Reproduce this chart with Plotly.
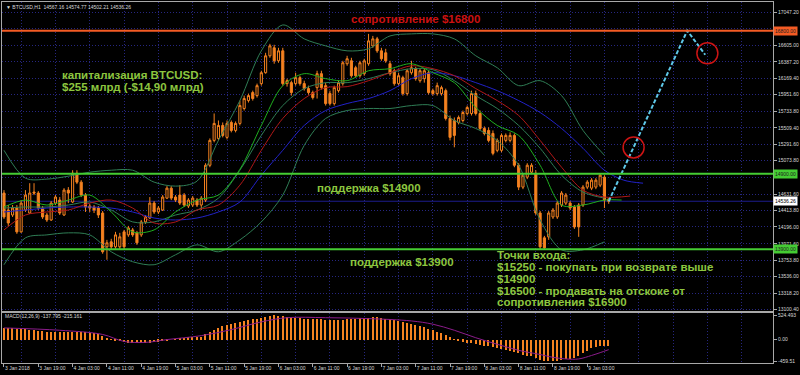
import plotly.graph_objects as go

# ---------------- data ----------------
time_labels = ["3 Jan 2018", "3 Jan 19:00", "4 Jan 03:00", "4 Jan 11:00", "4 Jan 19:00",
               "5 Jan 03:00", "5 Jan 11:00", "5 Jan 19:00", "6 Jan 03:00", "6 Jan 11:00",
               "6 Jan 19:00", "7 Jan 03:00", "7 Jan 11:00", "7 Jan 19:00", "8 Jan 03:00",
               "8 Jan 11:00", "8 Jan 19:00", "9 Jan 03:00"]
time_label_bars = [0, 8, 16, 24, 32, 40, 48, 56, 64, 72, 80, 88, 96, 104, 112, 120, 128, 136]
grid_bars = [4, 12, 20, 28, 36, 44, 52, 60, 68, 76, 84, 92, 100, 108, 116, 124, 132, 140,
             148, 156, 164, 172]

price_ticks = [17047.20, 16829.40, 16605.00, 16387.20, 16169.40, 15951.60, 15733.80, 15509.40,
               15291.60, 15073.80, 14849.40, 14631.60, 14413.80, 14196.00, 13971.60, 13753.80,
               13536.00, 13318.20, 13100.40]
# labels hidden behind the coloured level boxes are left blank
price_tick_text = ["17047.20", "", "16605.00", "16387.20", "16169.40", "15951.60", "15733.80",
                   "15509.40", "15291.60", "15073.80", "", "14631.60", "14413.80", "14196.00",
                   "13971.60", "13753.80", "13536.00", "13318.20", "13100.40"]

opens = [14645, 14420, 14354, 14446, 14130, 14420, 14380, 14658, 14645, 14446,
         14354, 14288, 14512, 14552, 14354, 14684, 14526, 14908, 14790, 14618,
         14473, 14460, 14446, 14380, 13932, 13998, 13932, 13932, 14130, 14090,
         14156, 14117, 14090, 14262, 14314, 14512, 14394, 14420, 14578, 14710,
         14592, 14618, 14618, 14473, 14486, 14552, 14486, 14552, 15014, 15344,
         15370, 15542, 15384, 15582, 15476, 15569, 15767, 15872, 15978, 15938,
         16097, 16242, 16466, 16572, 16400, 16532, 16097, 16110, 16097, 16176,
         16097, 16031, 15978, 16044, 16229, 16070, 15965, 15832, 16004, 16097,
         16361, 16400, 16308, 16202, 16229, 16361, 16598, 16691, 16532, 16506,
         16361, 16268, 16097, 16176, 15965, 16242, 16295, 16136, 16163, 16242,
         16004, 15965, 15965, 16004, 15635, 15608, 15582, 15608, 15701, 15701,
         15965, 15701, 15502, 15476, 15436, 15212, 15212, 15344, 15344, 15410,
         15014, 14724, 14856, 14922, 14908, 14380, 14051, 14064, 14328, 14328,
         14486, 14512, 14512, 14460, 14486, 14486, 14724, 14710, 14724, 14750,
         14856, 14567.16]
highs = [14684, 14486, 14486, 14486, 14552, 14684, 14776, 14776, 14671, 14473,
         14380, 14539, 14618, 14592, 14710, 14724, 14948, 14948, 14816, 14645,
         14500, 14486, 14473, 14407, 14024, 14038, 14130, 14117, 14156, 14209,
         14182, 14143, 14288, 14354, 14592, 14539, 14473, 14618, 14737, 14737,
         14618, 14750, 14645, 14578, 14605, 14578, 14605, 15041, 15370, 15701,
         15608, 15582, 15608, 15608, 15595, 15872, 15938, 15965, 16004, 16097,
         16268, 16506, 16625, 16612, 16572, 16572, 16163, 16136, 16242, 16202,
         16136, 16070, 16004, 16268, 16268, 16110, 16004, 16070, 16136, 16400,
         16466, 16440, 16334, 16400, 16427, 16757, 16730, 16717, 16572, 16559,
         16400, 16295, 16242, 16202, 16295, 16400, 16321, 16295, 16295, 16268,
         16031, 16110, 16070, 16031, 15674, 15648, 15674, 15740, 15806, 16004,
         16004, 15740, 15529, 15516, 15476, 15370, 15436, 15436, 15450, 15436,
         15041, 14908, 15041, 15041, 14948, 14407, 14077, 14407, 14446, 14539,
         14671, 14645, 14539, 14486, 14512, 14750, 14816, 14843, 14843, 14908,
         14882, 14574.77]
lows = [14302, 14209, 14328, 14104, 14117, 14394, 14368, 14618, 14420, 14302,
        14262, 14275, 14486, 14354, 14341, 14512, 14512, 14764, 14592, 14394,
        14394, 14380, 14314, 13840, 13760, 13892, 13906, 13892, 13892, 14064,
        14064, 13958, 14064, 14236, 14302, 14368, 14368, 14407, 14566, 14552,
        14526, 14486, 14460, 14446, 14460, 14460, 14420, 14526, 14988, 15318,
        15344, 15384, 15357, 15450, 15450, 15542, 15740, 15846, 15872, 15912,
        16070, 16229, 16440, 16361, 16374, 16070, 16057, 15938, 16070, 16070,
        16004, 15952, 15886, 15899, 16018, 15806, 15806, 15806, 15978, 16070,
        16334, 16176, 16176, 16176, 16202, 16334, 16572, 16506, 16400, 16374,
        16202, 16070, 16070, 15938, 15938, 16216, 16136, 16110, 16110, 15952,
        15938, 15938, 15938, 15608, 15344, 15252, 15556, 15582, 15674, 15674,
        15674, 15476, 15410, 15318, 15146, 15186, 15186, 15318, 15318, 14988,
        14684, 14697, 14830, 14896, 14354, 13892, 13892, 14024, 14302, 14302,
        14460, 14486, 14420, 14170, 14064, 14460, 14697, 14684, 14697, 14724,
        14446, 14502.21]
closes = [14328, 14248, 14446, 14130, 14512, 14618, 14645, 14645, 14446, 14328,
          14288, 14512, 14592, 14380, 14684, 14645, 14908, 14790, 14618, 14460,
          14446, 14420, 14354, 13866, 13985, 13932, 14090, 14064, 13932, 14182,
          14090, 13985, 14262, 14328, 14512, 14394, 14446, 14592, 14710, 14578,
          14552, 14512, 14486, 14552, 14578, 14486, 14578, 15014, 15344, 15569,
          15542, 15410, 15569, 15476, 15569, 15806, 15899, 15938, 15899, 16070,
          16242, 16466, 16598, 16400, 16532, 16097, 16136, 15978, 16176, 16097,
          16031, 15978, 15912, 16229, 16044, 15832, 15832, 16044, 16110, 16374,
          16427, 16202, 16202, 16374, 16400, 16664, 16691, 16532, 16427, 16400,
          16229, 16097, 16202, 15965, 16268, 16308, 16163, 16268, 16268, 15978,
          15965, 16070, 16044, 15635, 15384, 15410, 15648, 15714, 15780, 15965,
          15701, 15502, 15436, 15344, 15172, 15344, 15410, 15410, 15410, 15014,
          14724, 14882, 15014, 15014, 14380, 13932, 13918, 14380, 14420, 14512,
          14645, 14618, 14446, 14196, 14196, 14724, 14790, 14816, 14816, 14882,
          14552, 14536.26]
bars = list(range(len(closes)))

# indicator lines (bar index, price)
ind_bars = [0, 5, 10, 15, 20, 25, 30, 35, 40, 45, 50, 55, 60, 65, 70, 75, 80, 85, 90, 95,
            100, 105, 110, 115, 120, 125, 130, 135, 140]
bb_upper = [15212, 14843, 14830, 14869, 14922, 14948, 14948, 14790, 14737, 14803,
            15344, 15872, 16532, 16876, 16691, 16598, 16532, 16559, 16730, 16757,
            16757, 16691, 16466, 16308, 16070, 16136, 15938, 15476, 15146]
bb_middle = [14446, 14460, 14460, 14486, 14526, 14420, 14262, 14262, 14354, 14420,
             14578, 14948, 15410, 15806, 16031, 16110, 16110, 16163, 16242, 16295,
             16282, 16136, 15938, 15767, 15542, 15239, 14882, 14658, 14578]
bb_lower = [13694, 14051, 14090, 14117, 14090, 13866, 13734, 13694, 13826, 13958,
            13866, 14024, 14262, 14618, 15278, 15635, 15740, 15767, 15767, 15806,
            15806, 15608, 15502, 15344, 15014, 14288, 13892, 13892, 13998]
jaw_bars = ind_bars + [144.5, 149]
jaw_blue = [14394, 14420, 14446, 14460, 14460, 14446, 14394, 14314, 14288, 14314,
            14394, 14526, 14882, 15212, 15542, 15740, 15833, 15899, 16004, 16163,
            16242, 16202, 16110, 16004, 15872, 15714, 15502, 15239, 14948, 14816, 14776]
teeth_bars = ind_bars + [146]
teeth_red = [14156, 14354, 14394, 14420, 14512, 14552, 14446, 14248, 14262, 14420,
             14486, 14750, 15212, 15635, 15899, 16044, 16057, 16136, 16242, 16334,
             16295, 16202, 16031, 15872, 15674, 15344, 14988, 14684, 14592, 14605]
lips_bars = ind_bars + [144]
lips_green = [14460, 14552, 14486, 14552, 14618, 14394, 14130, 14156, 14394, 14552,
              14618, 14960, 15542, 16070, 16229, 16163, 16136, 16268, 16295, 16361,
              16242, 16110, 15780, 15542, 15410, 15014, 14486, 14486, 14552, 14552]

macd_hist = [260, 255, 250, 240, 235, 225, 215, 210, 200, 190, 180, 175, 170, 165, 165,
             170, 180, 180, 170, 160, 150, 140, 120,
             80, 50, 20,
             -10, -30, -50, -60, -70, -75, -75, -70, -60, -50, -40, -30,
             -15, 0, 20, 35, 45, 55, 60, 65, 70,
             120, 170, 220, 260, 290, 320, 340, 360, 380, 400, 420, 440, 460, 480,
             500, 515, 524.493, 520, 510, 500, 490, 480, 470, 460,
             450, 440, 440, 440, 430, 420, 420, 420, 430, 440, 450, 460, 465, 470, 480,
             490, 490, 480,
             460, 440, 420, 400, 380, 360, 340, 320, 300, 270, 240, 210,
             180, 150, 110, 60, 20, -20, -40, -60, -70, -80, -100, -120, -140, -160,
             -180, -195, -210,
             -230, -250, -290, -320, -340, -350, -380, -420, -450, -459.51, -455, -445,
             -430, -415, -400, -380, -340, -280, -230, -180, -150, -130, -120, -137.795]
signal_bars = [0, 13, 23, 28, 33, 38, 46, 53, 60, 66, 75, 85, 95, 100, 105, 110, 115,
               120, 125, 128, 131, 134, 137, 139, 141]
signal_vals = [250, 200, 110, -40, -60, 0, 85, 214, 380, 470, 470, 450, 400, 330, 200, 40,
               -100, -230, -320, -380, -415, -415, -340, -280, -215.161]

levels = [16800, 14900, 13900]
level_labels = ["16800.00", "14900.00", "13900.00"]
proj_bars = [141, 159.3, 163.5]
proj_price = [14536.26, 16800, 16480]
entry_bars = [146.8, 164.0]
entry_price = [15250, 16500]

# ---------------- styling ----------------
BG = "black"
FRAME = "#a8a8a8"
GRID = "#262680"
TICKC = "#d8d8d8"
CANDLE = "#f58220"
BBC = "#2f7d55"
GREEN_TXT = "#8dc63f"
FONT = "Liberation Sans"

# pixel helpers for text placement (plot area: x 1..774, y 1..363)
def px(x):
    return (x - 1) / 773.0

def py(y):
    return (363 - y) / 362.0

fig = go.Figure()

fig.add_trace(go.Candlestick(
    x=bars, open=opens, high=highs, low=lows, close=closes,
    increasing=dict(line=dict(color=CANDLE, width=1), fillcolor="black"),
    decreasing=dict(line=dict(color=CANDLE, width=1), fillcolor=CANDLE),
    whiskerwidth=0, xaxis="x", yaxis="y", hoverinfo="skip"))

def line(xs, ys, color, width=1, **kw):
    fig.add_trace(go.Scatter(x=xs, y=ys, mode="lines", xaxis="x", yaxis="y",
                             line=dict(color=color, width=width, shape="spline", smoothing=0.9),
                             hoverinfo="skip", **kw))

line(ind_bars, bb_upper, BBC)
line(ind_bars, bb_middle, BBC)
line(ind_bars, bb_lower, BBC)
line(jaw_bars, jaw_blue, "#2222c8")
line(teeth_bars, teeth_red, "#b01818")
line(lips_bars, lips_green, "#1fae1f")

# MACD
fig.add_trace(go.Bar(x=bars, y=macd_hist, width=0.35, marker=dict(color=CANDLE, line=dict(width=0)),
                     xaxis="x2", yaxis="y2", hoverinfo="skip"))
fig.add_trace(go.Scatter(x=signal_bars, y=signal_vals, mode="lines", xaxis="x2", yaxis="y2",
                         line=dict(color="#8b1c8b", width=1, shape="spline"), hoverinfo="skip"))

# levels
level_colors = ["#f45b24", "#44cc33", "#44cc33"]
for lv, col in zip(levels, level_colors):
    fig.add_shape(type="line", xref="paper", x0=0, x1=1, yref="y", y0=lv, y1=lv,
                  line=dict(color=col, width=2))
# bid line
fig.add_shape(type="line", xref="paper", x0=0, x1=1, yref="y", y0=closes[-1], y1=closes[-1],
              line=dict(color="#1c1c8c", width=1), layer="below")

# projection
fig.add_trace(go.Scatter(x=proj_bars, y=proj_price, mode="lines", xaxis="x", yaxis="y",
                         line=dict(color="#5ec8e8", width=2, dash="4px,2px"), hoverinfo="skip"))
fig.add_trace(go.Scatter(x=entry_bars, y=entry_price, mode="markers", xaxis="x", yaxis="y",
                         marker=dict(symbol="circle-open", size=21, color="#cc1414",
                                     line=dict(width=1.5, color="#cc1414")), hoverinfo="skip"))

annotations = []
def txt(text, x, y, color=GREEN_TXT, size=11.5, bold=True, anchor="left"):
    t = "<b>%s</b>" % text if bold else text
    annotations.append(dict(text=t, xref="paper", yref="paper", x=px(x), y=py(y),
                            xanchor=anchor, yanchor="middle", showarrow=False,
                            font=dict(family=FONT, size=size, color=color), borderpad=0))

txt("сопротивление $16800", 350, 18, color="#cc1111")
txt("капитализация BTCUSD:", 60, 74)
txt("$255 млрд (-$14,90 млрд)", 60, 86)
txt("поддержка $14900", 316, 188)
txt("поддержка $13900", 349, 262)
txt("Точки входа:", 496, 255)
txt("$15250 - покупать при возврате выше", 496, 267)
txt("$14900", 496, 279)
txt("$16500 - продавать на отскоке от", 496, 291)
txt("сопротивления $16900", 496, 302)

txt("▼ BTCUSD,H1  14567.16 14574.77 14502.21 14536.26", 4, 6, color=TICKC, size=5, bold=False)
txt("MACD(12,26,9) -137.795 -215.161", 3, 316, color=TICKC, size=5, bold=False)

# right-axis price boxes
box_cols = ["#f45b24", "#44cc33", "#44cc33"]
for lv, lab, col in zip(levels, level_labels, box_cols):
    annotations.append(dict(text=lab, xref="paper", yref="y", x=1.0, y=lv, xanchor="left",
                            yanchor="middle", showarrow=False, bgcolor=col, borderpad=1,
                            font=dict(family=FONT, size=5, color="#202020")))
annotations.append(dict(text="%.2f" % closes[-1], xref="paper", yref="y", x=1.0, y=closes[-1],
                        xanchor="left", yanchor="middle", showarrow=False, bgcolor="white",
                        borderpad=1, font=dict(family=FONT, size=5, color="black")))

xrange = [-0.465, 179.3]
axis_common = dict(showline=True, mirror=True, linecolor=FRAME, linewidth=1, zeroline=False)
minor_grid = dict(tickmode="array", tickvals=grid_bars, showgrid=True, gridcolor=GRID,
                  griddash="1px,2px", gridwidth=1, ticks="")

fig.update_layout(
    width=800, height=375, margin=dict(l=1, r=26, t=1, b=12),
    paper_bgcolor=BG, plot_bgcolor=BG, showlegend=False, boxgap=0.3, bargap=0,
    annotations=annotations,
    xaxis=dict(domain=[0, 1], anchor="y", range=xrange, showticklabels=False, ticks="",
               tickvals=time_label_bars, showgrid=False, minor=minor_grid,
               rangeslider=dict(visible=False), **axis_common),
    yaxis=dict(domain=[0.1436, 1], anchor="x", side="right", range=[13078, 17180],
               tickvals=price_ticks, ticktext=price_tick_text, ticks="outside", ticklen=3,
               tickcolor=FRAME, tickfont=dict(family=FONT, size=5, color=TICKC),
               showgrid=True, gridcolor=GRID, griddash="1px,2px", gridwidth=1, **axis_common),
    xaxis2=dict(domain=[0, 1], anchor="y2", range=xrange, tickvals=time_label_bars,
                ticktext=time_labels, ticks="outside", ticklen=3, tickcolor=FRAME,
                ticklabelposition="outside right", tickangle=0,
                tickfont=dict(family=FONT, size=5, color=TICKC), showgrid=False,
                minor=minor_grid, **axis_common),
    yaxis2=dict(domain=[0, 0.1395], anchor="x2", side="right", range=[-502, 578],
                tickvals=[524.493, 0, -459.51], ticktext=["524.493", "0.00", "-459.51"],
                ticks="outside", ticklen=3, tickcolor=FRAME,
                tickfont=dict(family=FONT, size=5, color=TICKC), showgrid=False, **axis_common),
)

fig.write_html("out.html")
